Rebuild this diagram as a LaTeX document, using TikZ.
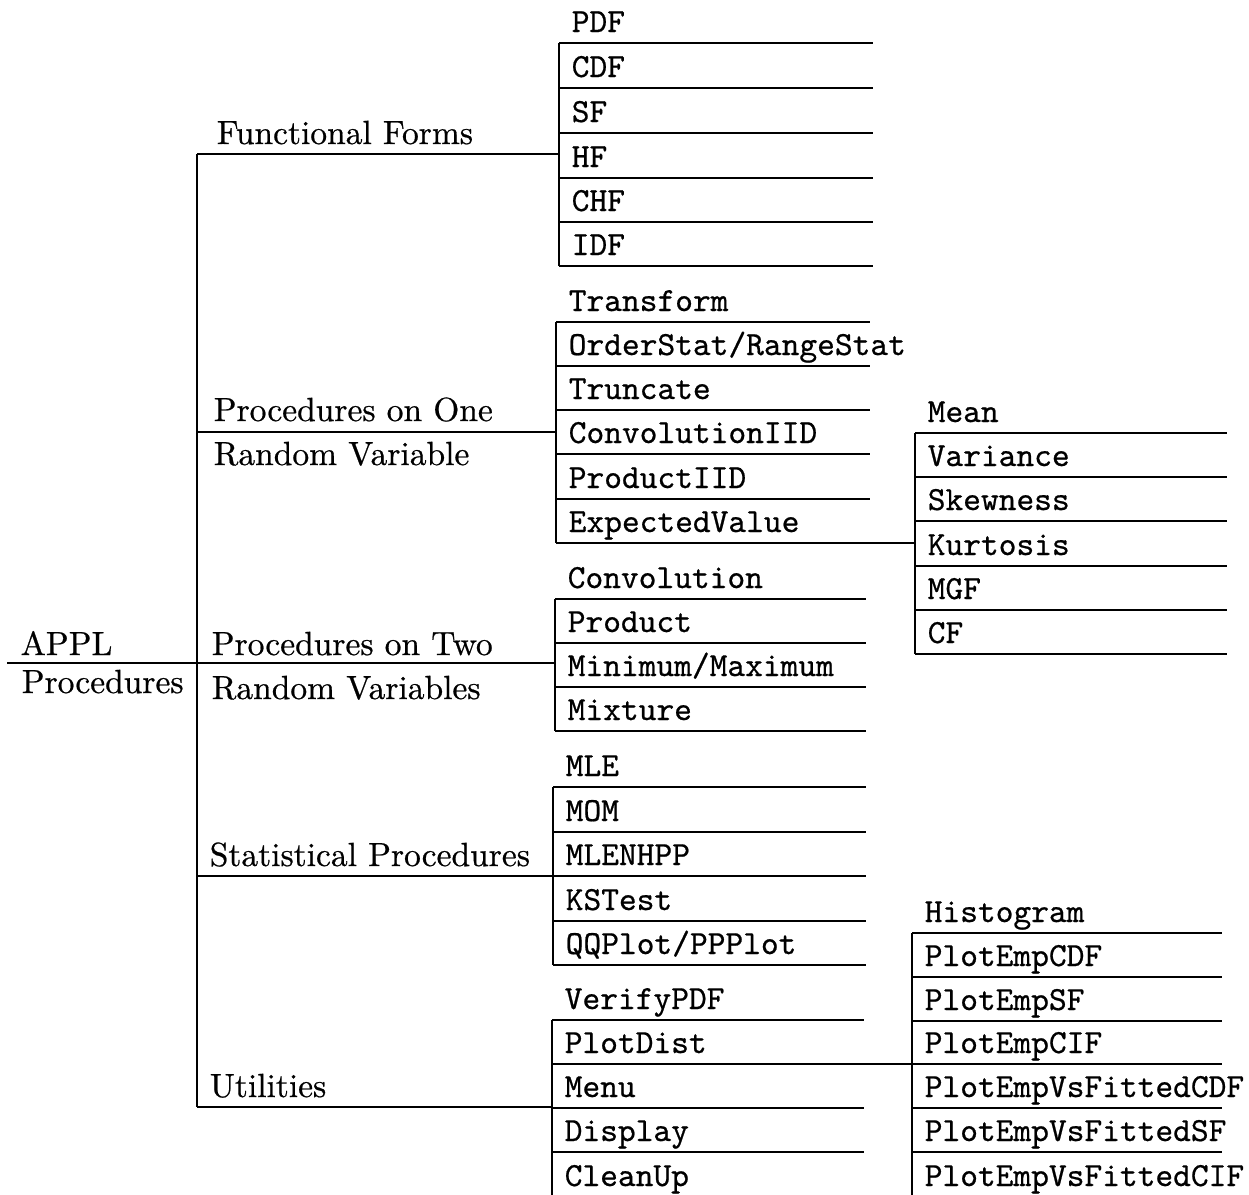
\documentclass[tikz,border=0pt]{standalone}
\usepackage{fontspec}
\newfontfamily\labfont{lmroman10-regular}[Extension=.otf,FakeBold=0.6]
\newfontfamily\itmfont{lmmono10-regular}[Extension=.otf,FakeBold=0.6]
\newcommand\itemrow[5]{% name, x-left, x-right, y-line, text
  \node[itm] (#1) at ({#2+12},{#4-11}) {#5};
  \draw (#2,#4) -- (#3,#4);}
\begin{document}
\begin{tikzpicture}[x=1pt,y=-1pt,line width=1.5pt,
  lab/.style={anchor=base west,inner sep=0pt,font=\labfont\fontsize{33.5}{40}\selectfont},
  itm/.style={anchor=base west,inner sep=0pt,font=\itmfont\fontsize{33.8}{40}\selectfont}]
\useasboundingbox (0,0) rectangle (1249,1194);
\clip (0,0) rectangle (1249,1194);

% root
\node[lab] (appl) at (20,655) {APPL};
\node[lab] (procs) at (21,693) {Procedures};
\coordinate (rootL) at (7,663);
\coordinate (rootR) at (197,663);
\draw (rootL) -- (rootR);
\coordinate (trunkTop) at (197,154);
\coordinate (trunkBot) at (197,1107);
\draw (trunkTop) -- (trunkBot);

% level 1 labels
\node[lab] (ff) at (216,144) {Functional Forms};
\node[lab] (one1) at (213,421) {Procedures on One};
\node[lab] (one2) at (213,465) {Random Variable};
\node[lab] (two1) at (211,655) {Procedures on Two};
\node[lab] (two2) at (211,699) {Random Variables};
\node[lab] (stat) at (209,866) {Statistical Procedures};
\node[lab] (util) at (209,1097) {Utilities};

% attachment points
\coordinate (bFF) at (197,154);  \coordinate (gFF) at (559,154);
\coordinate (bOne) at (197,432); \coordinate (gOne) at (556,432);
\coordinate (bTwo) at (197,663); \coordinate (gTwo) at (555,663);
\coordinate (bSt) at (197,876);  \coordinate (gSt) at (553,876);
\coordinate (bUt) at (197,1107); \coordinate (gUt) at (552,1107);
\draw (bFF) -- (gFF);
\draw (bOne) -- (gOne);
\draw (bTwo) -- (gTwo);
\draw (bSt) -- (gSt);
\draw (bUt) -- (gUt);

% Functional forms group
\draw (559,43) -- (559,266);
\itemrow{pdf}{559}{873}{43}{PDF}
\itemrow{cdf}{559}{873}{88}{CDF}
\itemrow{sf}{559}{873}{133}{SF}
\itemrow{hf}{559}{873}{178}{HF}
\itemrow{chf}{559}{873}{222}{CHF}
\itemrow{idf}{559}{873}{266}{IDF}

% one RV group
\draw (556,322) -- (556,543);
\itemrow{transform}{556}{870}{322}{Transform}
\itemrow{orderstat}{556}{870}{366}{OrderStat/RangeStat}
\itemrow{truncate}{556}{870}{410}{Truncate}
\itemrow{convIID}{556}{870}{454}{ConvolutionIID}
\itemrow{prodIID}{556}{870}{499}{ProductIID}
\itemrow{expval}{556}{870}{543}{ExpectedValue}

% moments group
\coordinate (evL) at (870,543);
\coordinate (momL) at (915,543);
\draw (evL) -- (momL);
\draw (915,433) -- (915,654);
\itemrow{mean}{915}{1227}{433}{Mean}
\itemrow{variance}{915}{1227}{477}{Variance}
\itemrow{skewness}{915}{1227}{521}{Skewness}
\itemrow{kurtosis}{915}{1227}{566}{Kurtosis}
\itemrow{mgf}{915}{1227}{610}{MGF}
\itemrow{cf}{915}{1227}{654}{CF}

% two RV group
\draw (555,599) -- (555,731);
\itemrow{conv}{555}{866}{599}{Convolution}
\itemrow{prod}{555}{866}{643}{Product}
\itemrow{minmax}{555}{866}{687}{Minimum/Maximum}
\itemrow{mixture}{555}{866}{731}{Mixture}

% statistical group
\draw (553,787) -- (553,965);
\itemrow{mle}{553}{866}{787}{MLE}
\itemrow{mom}{553}{866}{832}{MOM}
\itemrow{mlenhpp}{553}{866}{876}{MLENHPP}
\itemrow{kstest}{553}{866}{921}{KSTest}
\itemrow{qqplot}{553}{866}{965}{QQPlot/PPPlot}

% utilities group
\draw (552,1020) -- (552,1197);
\itemrow{verify}{552}{864}{1020}{VerifyPDF}
\itemrow{plotdist}{552}{864}{1064}{PlotDist}
\itemrow{menu}{552}{864}{1108}{Menu}
\itemrow{display}{552}{864}{1152}{Display}
\itemrow{cleanup}{552}{864}{1197}{CleanUp}

% plot group
\coordinate (pdL) at (864,1064);
\coordinate (plotL) at (912,1064);
\draw (pdL) -- (plotL);
\draw (912,933) -- (912,1197);
\itemrow{hist}{912}{1222}{933}{Histogram}
\itemrow{pecdf}{912}{1222}{977}{PlotEmpCDF}
\itemrow{pesf}{912}{1222}{1021}{PlotEmpSF}
\itemrow{pecif}{912}{1222}{1064}{PlotEmpCIF}
\itemrow{pvcdf}{912}{1222}{1108}{PlotEmpVsFittedCDF}
\itemrow{pvsf}{912}{1222}{1152}{PlotEmpVsFittedSF}
\itemrow{pvcif}{912}{1222}{1197}{PlotEmpVsFittedCIF}
\end{tikzpicture}
\end{document}
